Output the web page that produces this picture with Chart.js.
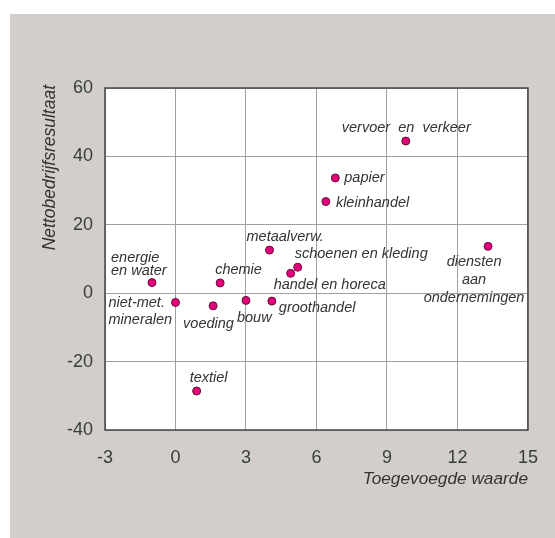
<!DOCTYPE html>
<html>
<head>
<meta charset="utf-8">
<script src="https://cdn.jsdelivr.net/npm/chart.js@4/dist/chart.umd.min.js"></script>
<style>
  html, body { margin: 0; padding: 0; background: #ffffff; }
  #wrap { width: 555px; height: 538px; }
</style>
</head>
<body>
<div id="wrap"><canvas id="c" width="555" height="538"></canvas></div>
<script>
// ---- data ----
const sectors = ["energie en water", "niet-met. mineralen", "voeding", "chemie", "bouw",
  "groothandel", "metaalverw.", "handel en horeca", "schoenen en kleding", "textiel",
  "vervoer en verkeer", "papier", "kleinhandel", "diensten aan ondernemingen"];
const toegevoegdeWaarde = [-1.0, 0.0, 1.6, 1.9, 3.0, 4.1, 4.0, 4.9, 5.2, 0.9, 9.8, 6.8, 6.4, 13.3];
const nettobedrijfsresultaat = [3.1, -2.7, -3.7, 3.0, -2.1, -2.3, 12.6, 5.8, 7.6, -28.6, 44.5, 33.7, 26.8, 13.7];
const xTicks = [-3, 0, 3, 6, 9, 12, 15];
const yTicks = [-40, -20, 0, 20, 40, 60];
const xTitle = "Toegevoegde waarde";
const yTitle = "Nettobedrijfsresultaat";

// label text lines (per sector) and their placement relative to the point (pixels)
const labelLines = [
  ["energie", "en water"], ["niet-met.", "mineralen"], ["voeding"], ["chemie"], ["bouw"],
  ["groothandel"], ["metaalverw."], ["handel en horeca"], ["schoenen en kleding"], ["textiel"],
  ["vervoer  en  verkeer"], ["papier"], ["kleinhandel"], ["diensten", "aan", "ondernemingen"]
];
const labelPlace = [
  {dx: -41, dy: -25, lh: 13, align: "left"},
  {dx: -67, dy: 1, lh: 17, align: "left"},
  {dx: -30, dy: 18, lh: 17, align: "left"},
  {dx: -5, dy: -13, lh: 17, align: "left"},
  {dx: -9, dy: 18, lh: 17, align: "left"},
  {dx: 7, dy: 7, lh: 17, align: "left"},
  {dx: -23, dy: -13, lh: 17, align: "left"},
  {dx: -17, dy: 12, lh: 17, align: "left"},
  {dx: -3, dy: -13, lh: 17, align: "left"},
  {dx: -7, dy: -13, lh: 17, align: "left"},
  {dx: -64, dy: -13, lh: 17, align: "left"},
  {dx: 9, dy: 0, lh: 17, align: "left"},
  {dx: 10, dy: 1, lh: 17, align: "left"},
  {dx: -14, dy: 16, lh: 18, align: "center"}
];

const points = toegevoegdeWaarde.map((x, i) => ({x: x, y: nettobedrijfsresultaat[i]}));

const FONT = "'Liberation Sans', Arial, Helvetica, sans-serif";
const TEXT = "#353f3c";

const decor = {
  id: "decor",
  beforeDraw(chart) {
    const ctx = chart.ctx, a = chart.chartArea;
    ctx.save();
    ctx.fillStyle = "#ffffff";
    ctx.fillRect(0, 0, chart.width, chart.height);
    ctx.fillStyle = "#d3cecb";
    ctx.fillRect(10, 14, chart.width - 10, chart.height - 14);
    ctx.fillStyle = "#ffffff";
    ctx.fillRect(a.left, a.top, a.right - a.left, a.bottom - a.top);
    ctx.restore();
  },
  afterDatasetsDraw(chart) {
    const ctx = chart.ctx, a = chart.chartArea;
    const xs = chart.scales.x, ys = chart.scales.y;
    ctx.save();
    // frame
    ctx.strokeStyle = "#3f4946";
    ctx.lineWidth = 1.5;
    ctx.strokeRect(a.left, a.top, a.right - a.left, a.bottom - a.top);
    // point labels
    ctx.fillStyle = "#333333";
    ctx.font = "italic 14.5px " + FONT;
    ctx.textBaseline = "middle";
    points.forEach((p, i) => {
      const px = xs.getPixelForValue(p.x), py = ys.getPixelForValue(p.y);
      const pl = labelPlace[i];
      ctx.textAlign = pl.align;
      labelLines[i].forEach((line, j) => {
        ctx.fillText(line, px + pl.dx, py + pl.dy + j * pl.lh);
      });
    });
    // axis titles
    ctx.fillStyle = "#333333";
    ctx.font = "italic 17.25px " + FONT;
    ctx.textAlign = "right";
    ctx.textBaseline = "middle";
    ctx.fillText(xTitle, a.right, a.bottom + 49);
    ctx.font = "italic 17.5px " + FONT;
    ctx.translate(50, a.top - 3);
    ctx.rotate(-Math.PI / 2);
    ctx.textAlign = "right";
    ctx.fillText(yTitle, 0, 0);
    ctx.restore();
  }
};

new Chart(document.getElementById("c"), {
  type: "scatter",
  data: {
    datasets: [{
      data: points,
      backgroundColor: "#e3007b",
      borderColor: "#6a0d3b",
      borderWidth: 1,
      pointRadius: 4,
      pointHoverRadius: 4
    }]
  },
  options: {
    responsive: false,
    animation: false,
    devicePixelRatio: 1,
    layout: { padding: { left: 0, top: 88, right: 27, bottom: 0 } },
    plugins: { legend: { display: false }, tooltip: { enabled: false } },
    scales: {
      x: {
        type: "linear",
        min: xTicks[0], max: xTicks[xTicks.length - 1],
        afterBuildTicks(s) { s.ticks = xTicks.map(v => ({value: v})); },
        afterFit(s) { s.height = 108; },
        grid: { color: "#a59d97", lineWidth: 1, drawTicks: false },
        border: { display: false },
        ticks: { color: TEXT, font: { family: FONT, size: 18 }, padding: 17 }
      },
      y: {
        type: "linear",
        min: yTicks[0], max: yTicks[yTicks.length - 1],
        afterBuildTicks(s) { s.ticks = yTicks.map(v => ({value: v})); },
        afterFit(s) { s.width = 105; },
        grid: { color: "#a59d97", lineWidth: 1, drawTicks: false },
        border: { display: false },
        ticks: { color: TEXT, font: { family: FONT, size: 18 }, padding: 12 }
      }
    }
  },
  plugins: [decor]
});
</script>
</body>
</html>
